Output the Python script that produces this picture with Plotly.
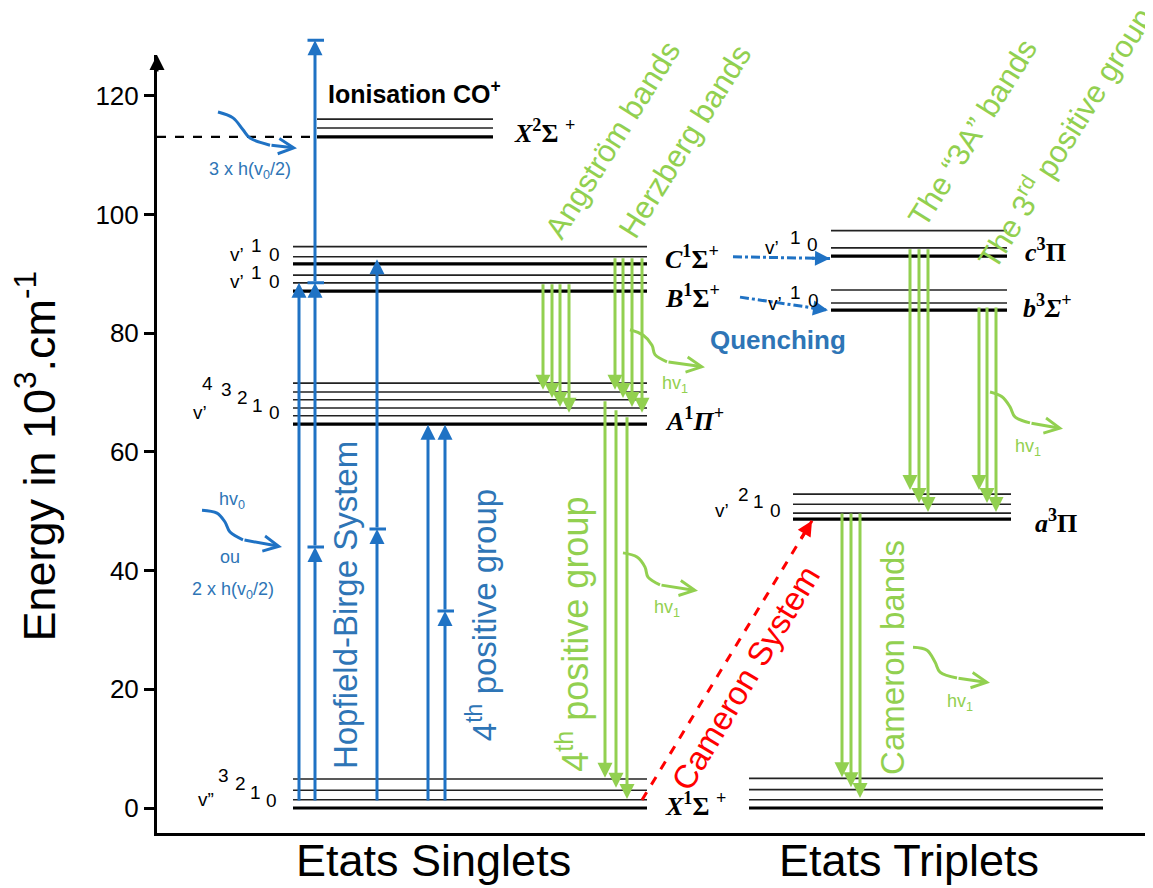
import plotly.graph_objects as go

# ---------------- data ----------------
# energy levels (10^3 cm^-1) and horizontal extent of each block
levels_X_singlet = [0.0, 1.4, 3.0, 4.9]
levels_A = [64.7, 66.1, 67.4, 68.8, 70.1, 71.6]
levels_B = [87.1, 88.5, 89.8]
levels_C = [91.7, 92.9, 94.6]
levels_ion = [113.1, 114.6, 116.1]
levels_c3 = [93.0, 94.4, 97.3]
levels_b3 = [83.9, 85.1, 87.3]
levels_a3 = [48.7, 49.7, 51.2, 52.9]
levels_X_triplet = [0.0, 1.4, 3.1, 5.0]

span_singlet = (293, 647)
span_ion = (317, 493)
span_c3b3 = (831, 1007)
span_a3 = (793, 1011)
span_X_triplet = (749, 1103)

ionisation_energy = 113.1

# blue excitation arrows: x, stop energies (first = start), energies with a bar
blue_arrows = [
    (299, [1.0, 88.5], []),
    (315, [1.0, 44.0, 88.5, 129.4], [44.0, 88.5, 129.4]),
    (377, [1.0, 47.0, 92.5], [47.0]),
    (428, [1.0, 64.6], []),
    (445, [1.0, 33.2, 64.6], [33.2]),
]

# green emission arrows: x list, top energies, tip energies
angstrom_x = [543, 552, 560, 569]
angstrom_top = [88.5, 88.5, 88.5, 88.5]
angstrom_tip = [70.5, 69.1, 67.6, 66.6]
herzberg_x = [615, 623, 632, 642]
herzberg_top = [92.9, 92.9, 92.9, 92.9]
herzberg_tip = [70.5, 69.1, 67.6, 66.6]
fourth_x = [605, 616, 627]
fourth_top = [68.8, 67.3, 66.1]
fourth_tip = [5.1, 3.4, 1.5]
threeA_x = [910, 919, 928]
threeA_top = [94.4, 94.4, 94.4]
threeA_tip = [53.6, 51.4, 49.9]
third_x = [979, 987, 996]
third_top = [84.6, 84.6, 84.6]
third_tip = [53.6, 51.4, 49.9]
cameron_x = [842, 851, 860]
cameron_top = [49.9, 49.9, 49.9]
cameron_tip = [5.2, 3.5, 1.7]

# wavy photon arrows
wave_top_x = [218, 233, 243, 250, 270, 297]
wave_top_y = [117.3, 116.3, 114.3, 112.9, 111.7, 111.2]
wave_mid_x = [202, 217, 225, 230, 243, 282]
wave_mid_y = [50.2, 49.7, 48.2, 46.5, 45.2, 44.0]
wave_g1_x = [630, 643, 652, 655, 667, 705]
wave_g1_y = [80.6, 79.7, 78.0, 76.4, 75.2, 74.3]
wave_g2_x = [623, 637, 645, 648, 660, 698]
wave_g2_y = [43.0, 42.3, 40.6, 38.9, 37.6, 36.6]
wave_g3_x = [990, 1002, 1010, 1015, 1030, 1063]
wave_g3_y = [70.1, 69.3, 67.6, 65.9, 64.9, 63.9]
wave_g4_x = [913, 927, 935, 940, 957, 990]
wave_g4_y = [27.1, 26.6, 24.6, 22.9, 21.9, 21.1]

# quenching arrows (x0, y0, x1, y1)
quench_C = (733, 92.9, 830, 92.6)
quench_B = (740, 86.1, 828, 83.9)
# Cameron system (red dashed)
cameron_sys = (642, 1.35, 812, 48.4)

y_ticks = [0, 20, 40, 60, 80, 100, 120]
y_range = [-4.21, 126.9]

BLUE = "#1F72C4"
BLUE_T = "#2E75B6"
GREEN = "#92D050"
FONT = "Liberation Sans"
SERIF = "Liberation Serif"

fig = go.Figure()


def hline(x0, x1, e, w, color="black"):
    fig.add_trace(go.Scatter(x=[x0, x1], y=[e, e], mode="lines",
                             line=dict(color=color, width=w),
                             hoverinfo="skip", showlegend=False))


def block(levels, span):
    for i, e in enumerate(levels):
        hline(span[0], span[1], e, 3.2 if i == 0 else 1.6,
              "black" if i == 0 else "#222222")


block(levels_X_singlet, span_singlet)
block(levels_A, span_singlet)
block(levels_B, span_singlet)
block(levels_C, span_singlet)
block(levels_ion, span_ion)
block(levels_c3, span_c3b3)
block(levels_b3, span_c3b3)
block(levels_a3, span_a3)
block(levels_X_triplet, span_X_triplet)

# ionisation dashed line
fig.add_trace(go.Scatter(x=[157, span_ion[0]], y=[ionisation_energy] * 2, mode="lines",
                         line=dict(color="black", width=2.2, dash="dash"),
                         hoverinfo="skip", showlegend=False))

ann = []


def arrow(x0, y0, x1, y1, color, width=3, head=2, size=1.0):
    ann.append(dict(x=x1, y=y1, ax=x0, ay=y0, xref="x", yref="y",
                    axref="x", ayref="y", text="", showarrow=True,
                    arrowhead=head, arrowsize=size, arrowwidth=width,
                    arrowcolor=color, standoff=0, startstandoff=0))


def line(xs, ys, color, width=3, dash=None, spline=False):
    fig.add_trace(go.Scatter(x=xs, y=ys, mode="lines",
                             line=dict(color=color, width=width, dash=dash,
                                       shape="spline" if spline else "linear"),
                             hoverinfo="skip", showlegend=False))


# blue arrows with T bars
for x, stops, bars in blue_arrows:
    for a, b in zip(stops[:-1], stops[1:]):
        arrow(x, a, x, b, BLUE, 3)
    for s in bars:
        if s <= y_range[1]:
            arrow(x - 9, s, x + 9, s, BLUE, 3, head=0)
        else:
            # bar above the axis range: place it in paper units vertically
            yp = (s - y_range[0]) / (y_range[1] - y_range[0])
            ann.append(dict(x=x + 9, y=yp, xref="x", yref="paper", ax=-18, ay=0,
                            axref="pixel", ayref="pixel", text="", showarrow=True,
                            arrowhead=0, arrowwidth=3, arrowcolor=BLUE,
                            standoff=0, startstandoff=0))

# green arrows
for xs, tops, tips in [(angstrom_x, angstrom_top, angstrom_tip),
                       (herzberg_x, herzberg_top, herzberg_tip),
                       (fourth_x, fourth_top, fourth_tip),
                       (threeA_x, threeA_top, threeA_tip),
                       (third_x, third_top, third_tip),
                       (cameron_x, cameron_top, cameron_tip)]:
    for x, t, p in zip(xs, tops, tips):
        arrow(x, t, x, p, GREEN, 3)

# wavy arrows
for wx, wy, col in [(wave_top_x, wave_top_y, BLUE), (wave_mid_x, wave_mid_y, BLUE),
                    (wave_g1_x, wave_g1_y, GREEN), (wave_g2_x, wave_g2_y, GREEN),
                    (wave_g3_x, wave_g3_y, GREEN), (wave_g4_x, wave_g4_y, GREEN)]:
    line(wx[:-1], wy[:-1], col, 3, spline=True)
    arrow(wx[-2], wy[-2], wx[-1], wy[-1], col, 3, head=5)

# quenching (dash-dot)
for q in (quench_C, quench_B):
    line([q[0], q[2]], [q[1], q[3]], BLUE, 3, dash="dashdot")
    arrow(q[0] + (q[2] - q[0]) * 0.8, q[1] + (q[3] - q[1]) * 0.8, q[2], q[3], BLUE, 3)

# Cameron system red dashed
c = cameron_sys
line([c[0], c[2]], [c[1], c[3]], "#FF0000", 3, dash="dash")
arrow(c[0] + (c[2] - c[0]) * 0.93, c[1] + (c[3] - c[1]) * 0.93, c[2], c[3], "#FF0000", 3)


def text(x, y, s, size, color="black", angle=0, family=FONT, xanchor="center", yanchor="middle"):
    ann.append(dict(x=x, y=y, xref="x", yref="y", text=s, showarrow=False,
                    textangle=angle, xanchor=xanchor, yanchor=yanchor,
                    font=dict(size=size, color=color, family=family)))


# state labels
SS = 26
text(326, 120.7, "<b>Ionisation CO<sup>+</sup></b>", 25, xanchor="left")
text(512, 114.0, "<b><i>X</i><sup>2</sup>Σ <sup>+</sup></b>", SS, family=SERIF, xanchor="left")
text(663, 92.7, "<b><i>C</i><sup>1</sup>Σ<sup>+</sup></b>", SS, family=SERIF, xanchor="left")
text(663, 86.2, "<b><i>B</i><sup>1</sup>Σ<sup>+</sup></b>", SS, family=SERIF, xanchor="left")
text(663, 65.4, "<b><i>A</i><sup>1</sup><i>Π</i><sup>+</sup></b>", SS, family=SERIF, xanchor="left")
text(663, 0.6, "<b><i>X</i><sup>1</sup>Σ <sup>+</sup></b>", SS, family=SERIF, xanchor="left")
text(1023, 94.0, "<b><i>c</i><sup>3</sup>Π</b>", SS, family=SERIF, xanchor="left")
text(1021, 84.6, "<b><i>b</i><sup>3</sup><i>Σ</i><sup>+</sup></b>", SS, family=SERIF, xanchor="left")
text(1033, 48.3, "<b><i>a</i><sup>3</sup>Π</b>", SS, family=SERIF, xanchor="left")

# vibrational labels
VS = 19
for x, y, s in [(237, 93.2, "v’"), (256, 94.8, "1"), (274, 93.2, "0"),
                (237, 88.7, "v’"), (256, 90.2, "1"), (274, 88.7, "0"),
                (200, 66.6, "v’"), (207, 71.6, "4"), (226, 70.5, "3"), (242, 69.1, "2"),
                (257, 67.9, "1"), (274, 66.6, "0"),
                (206, 1.5, "v”"), (223, 5.4, "3"), (240, 4.2, "2"), (255, 2.7, "1"), (271, 1.2, "0"),
                (722, 50.2, "v’"), (743, 52.8, "2"), (758, 51.6, "1"), (775, 50.2, "0"),
                (772, 94.4, "v’"), (795, 96.2, "1"), (812, 94.9, "0"),
                (775, 85.1, "v’"), (795, 86.8, "1"), (813, 85.6, "0")]:
    text(x, y, s, VS)

# photon labels
PS = 18
text(250, 107.5, "3 x h(v<sub>0</sub>/2)", PS, BLUE_T)
text(232, 51.9, "hv<sub>0</sub>", PS, BLUE_T)
text(230, 42.3, "ou", PS, BLUE_T)
text(233, 36.7, "2 x h(v<sub>0</sub>/2)", PS, BLUE_T)
text(675, 71.3, "hv<sub>1</sub>", PS, GREEN)
text(667, 33.7, "hv<sub>1</sub>", PS, GREEN)
text(1028, 60.8, "hv<sub>1</sub>", PS, GREEN)
text(960, 17.7, "hv<sub>1</sub>", PS, GREEN)
text(778, 78.9, "<b>Quenching</b>", 26, BLUE_T)

# rotated band labels
text(613, 112.6, "Angström bands", 31, GREEN, -58)
text(685, 112.3, "Herzberg bands", 31, GREEN, -58)
text(973, 113.8, "The “3A” bands", 31, GREEN, -58)
text(1064, 113.0, "The 3<sup>rd</sup> positive group", 31, GREEN, -58)
text(745, 21.9, "Cameron System", 33, "#FF0000", -59)
text(345, 34.2, "Hopfield-Birge System", 33, BLUE_T, -90)
text(482, 32.5, "4<sup>th</sup> positive group", 33, BLUE_T, -90)
text(573, 29.2, "4<sup>th</sup> positive group", 36, GREEN, -90)
text(893, 25.3, "Cameron bands", 33, GREEN, -90)

# bottom titles
ann.append(dict(x=433, y=0.0, xref="x", yref="paper", text="Etats Singlets", showarrow=False,
                yanchor="top", font=dict(size=45, color="black", family=FONT)))
ann.append(dict(x=909, y=0.0, xref="x", yref="paper", text="Etats Triplets", showarrow=False,
                yanchor="top", font=dict(size=45, color="black", family=FONT)))
# axis title
ann.append(dict(x=-0.121, y=59.3, xref="paper", yref="y", text="Energy in 10<sup>3</sup>.cm<sup>-1</sup>",
                showarrow=False, textangle=-90, xanchor="center", yanchor="middle",
                font=dict(size=45, color="black", family=FONT)))
# y-axis arrow head
ann.append(dict(x=0, y=1.0, xref="paper", yref="paper", ax=0, ay=18, axref="pixel", ayref="pixel",
                text="", showarrow=True, arrowhead=2, arrowsize=1, arrowwidth=3,
                arrowcolor="black", standoff=0))

# the page body adds an 8px offset; figure is sized so the plot area sits at
# x 157..1153, y 55..833 of the window
fig.update_layout(
    width=1145, height=880,
    margin=dict(l=149, r=0, t=47, b=55),
    paper_bgcolor="white", plot_bgcolor="white",
    showlegend=False,
    annotations=ann,
    xaxis=dict(range=[157, 1153], showgrid=False, zeroline=False, showticklabels=False,
               ticks="", showline=True, linecolor="black", linewidth=3, fixedrange=True),
    yaxis=dict(range=y_range, showgrid=False, zeroline=False, tickvals=y_ticks,
               ticks="outside", ticklen=10, tickwidth=3, tickcolor="black",
               showline=True, linecolor="black", linewidth=3,
               tickfont=dict(size=26, color="black", family=FONT), fixedrange=True),
)

fig.write_html("out.html")
